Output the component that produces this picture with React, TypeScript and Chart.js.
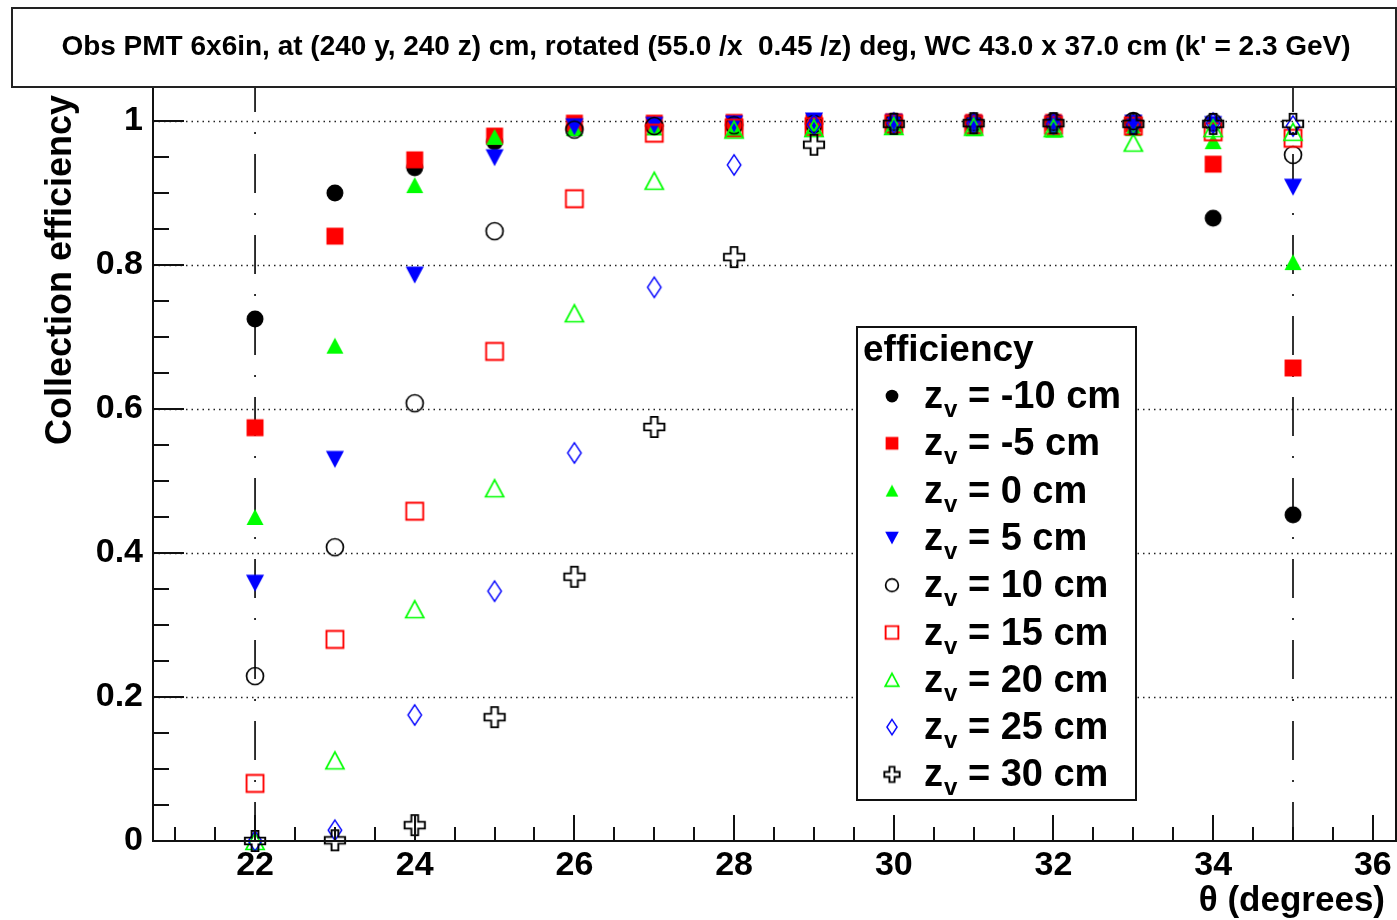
import React, { useEffect, useRef } from 'react';
import { Chart, registerables } from 'chart.js';

Chart.register(...registerables);

// ---------------- data ----------------
const thetaDeg = [22, 23, 24, 25, 26, 27, 28, 29, 30, 31, 32, 33, 34, 35];

const effZm10 = [0.725, 0.900, 0.935, 0.971, 0.990, 0.995, 0.996, 0.997, 0.998, 0.997, 0.998, 0.995, 0.865, 0.453];
const effZm5 = [0.574, 0.840, 0.946, 0.979, 0.997, 0.997, 0.998, 0.998, 0.999, 0.998, 0.998, 0.996, 0.940, 0.657];
const effZ0 = [0.450, 0.688, 0.911, 0.978, 0.990, 0.991, 0.989, 0.992, 0.992, 0.990, 0.988, 0.990, 0.972, 0.804];
const effZ5 = [0.358, 0.530, 0.786, 0.949, 0.992, 0.994, 0.996, 1.000, 0.998, 0.996, 0.996, 0.997, 0.995, 0.908];
const effZ10 = [0.229, 0.408, 0.608, 0.847, 0.988, 0.993, 0.994, 0.996, 0.999, 0.998, 0.999, 1.000, 0.998, 0.953];
const effZ15 = [0.080, 0.280, 0.458, 0.680, 0.892, 0.983, 0.990, 0.992, 0.996, 0.995, 0.994, 0.993, 0.985, 0.976];
const effZ20 = [0.000, 0.112, 0.322, 0.490, 0.733, 0.917, 0.988, 0.990, 0.993, 0.992, 0.990, 0.970, 0.990, 0.985];
const effZ25 = [0.000, 0.015, 0.175, 0.347, 0.539, 0.769, 0.939, 0.995, 0.997, 0.997, 0.996, 0.995, 0.997, 0.993];
const effZ30 = [0.000, 0.001, 0.022, 0.172, 0.367, 0.575, 0.811, 0.967, 0.996, 0.997, 0.997, 0.996, 0.996, 0.996];

const seriesLabels = ['-10', '-5', '0', '5', '10', '15', '20', '25', '30'];
const seriesValues = [effZm10, effZm5, effZ0, effZ5, effZ10, effZ15, effZ20, effZ25, effZ30];
const seriesMarkers = ['fcircle', 'fsquare', 'ftriup', 'ftridown', 'ocircle', 'osquare', 'otriup', 'odiamond', 'ocross'];
const seriesColors = ['#000000', '#ff0000', '#00ff00', '#0000ff', '#000000', '#ff0000', '#00ff00', '#0000ff', '#000000'];

const rangeLines = [22, 35];
const xTicks = [22, 24, 26, 28, 30, 32, 34, 36];
const yTicks = [0, 0.2, 0.4, 0.6, 0.8, 1];
const yTickLabels = ['0', '0.2', '0.4', '0.6', '0.8', '1'];

const X_MIN = 20.722;
const X_MAX = 36.29;
const Y_MIN = 0;
const Y_MAX = 1.0472;

const titleText = "Obs PMT 6x6in, at (240 y, 240 z) cm, rotated (55.0 /x  0.45 /z) deg, WC 43.0 x 37.0 cm (k' = 2.3 GeV)";
const yTitle = 'Collection efficiency';
const xTitle = 'θ (degrees)';
const legendTitle = 'efficiency';

const FONT = '"Liberation Sans", Arial, Helvetica, sans-serif';

// ---------------- markers ----------------
function makeMarker(kind: string, color: string, s: number): HTMLCanvasElement {
  const size = 2 * Math.ceil(12 * s);
  const c = document.createElement('canvas');
  c.width = size;
  c.height = size;
  const g = c.getContext('2d')!;
  const cx = size / 2;
  const cy = size / 2;
  g.fillStyle = color;
  g.strokeStyle = color;
  g.lineWidth = 1.7;
  g.lineJoin = 'miter';
  g.beginPath();
  switch (kind) {
    case 'fcircle':
      g.arc(cx, cy, 7.5 * s, 0, Math.PI * 2);
      g.fill();
      break;
    case 'fsquare':
      g.rect(cx - 7.5 * s, cy - 7.5 * s, 15 * s, 15 * s);
      g.fill();
      break;
    case 'ftriup':
      g.moveTo(cx, cy - 7 * s);
      g.lineTo(cx + 7.5 * s, cy + 7 * s);
      g.lineTo(cx - 7.5 * s, cy + 7 * s);
      g.closePath();
      g.fill();
      break;
    case 'ftridown':
      g.moveTo(cx - 8 * s, cy - 7.5 * s);
      g.lineTo(cx + 8 * s, cy - 7.5 * s);
      g.lineTo(cx, cy + 7.5 * s);
      g.closePath();
      g.fill();
      break;
    case 'ocircle':
      g.arc(cx, cy, 7.5 * s, 0, Math.PI * 2);
      g.stroke();
      break;
    case 'osquare':
      g.lineWidth = 1.9;
      g.rect(cx - 7.5 * s, cy - 7.5 * s, 15 * s, 15 * s);
      g.stroke();
      break;
    case 'otriup':
      g.moveTo(cx, cy - 7.5 * s);
      g.lineTo(cx + 8 * s, cy + 7.5 * s);
      g.lineTo(cx - 8 * s, cy + 7.5 * s);
      g.closePath();
      g.stroke();
      break;
    case 'odiamond':
      g.lineWidth = 1.4;
      g.moveTo(cx, cy - 9 * s);
      g.lineTo(cx + 6 * s, cy);
      g.lineTo(cx, cy + 9 * s);
      g.lineTo(cx - 6 * s, cy);
      g.closePath();
      g.stroke();
      break;
    case 'ocross': {
      g.lineWidth = 1.9;
      const a = 9 * s;
      const b = 3 * s;
      const pts = [
        [-b, -a], [b, -a], [b, -b], [a, -b], [a, b], [b, b],
        [b, a], [-b, a], [-b, b], [-a, b], [-a, -b], [-b, -b],
      ];
      pts.forEach((p, i) => (i === 0 ? g.moveTo(cx + p[0], cy + p[1]) : g.lineTo(cx + p[0], cy + p[1])));
      g.closePath();
      g.stroke();
      break;
    }
  }
  return c;
}

// ---------------- plugin ----------------
const rootStyle = {
  id: 'rootStyle',
  beforeDatasetsDraw(chart: any) {
    const { ctx, chartArea: a, scales } = chart;
    const ys = scales.y;
    ctx.save();
    ctx.strokeStyle = '#222';
    ctx.lineWidth = 1.5;
    ctx.setLineDash([1.5, 4]);
    yTicks.forEach((v) => {
      if (v === 0) return;
      const py = Math.round(ys.getPixelForValue(v)) + 0.5;
      ctx.beginPath();
      ctx.moveTo(a.left, py);
      ctx.lineTo(a.right, py);
      ctx.stroke();
    });
    ctx.restore();
  },
  afterDraw(chart: any) {
    const { ctx, chartArea: a, scales } = chart;
    const xs = scales.x;
    const ys = scales.y;
    ctx.save();
    // frame
    ctx.strokeStyle = '#111';
    ctx.lineWidth = 2;
    ctx.strokeRect(a.left, a.top, a.right - a.left, a.bottom - a.top);

    // y ticks
    ctx.lineWidth = 2;
    for (let i = 0; i <= 20; i++) {
      const v = i * 0.05;
      const py = Math.round(ys.getPixelForValue(v));
      const major = i % 4 === 0;
      ctx.beginPath();
      ctx.moveTo(a.left, py);
      ctx.lineTo(a.left + (major ? 31 : 16), py);
      ctx.stroke();
    }
    // x ticks
    for (let v = 21; v <= 36.01; v += 0.5) {
      const px = Math.round(xs.getPixelForValue(v));
      const major = Math.abs(v / 2 - Math.round(v / 2)) < 1e-6;
      ctx.beginPath();
      ctx.moveTo(px, a.bottom);
      ctx.lineTo(px, a.bottom - (major ? 26 : 14));
      ctx.stroke();
    }

    // title box
    ctx.fillStyle = '#fff';
    ctx.fillRect(12, 8, 1384, 79);
    ctx.strokeStyle = '#222';
    ctx.lineWidth = 2;
    ctx.strokeRect(12, 8, 1384, 79);
    ctx.fillStyle = '#000';
    ctx.font = `bold 28px ${FONT}`;
    ctx.textAlign = 'center';
    ctx.textBaseline = 'middle';
    ctx.fillText(titleText, 706, 47);

    // axis titles
    ctx.font = `bold 36px ${FONT}`;
    ctx.save();
    ctx.translate(61, 95);
    ctx.rotate(-Math.PI / 2);
    ctx.textAlign = 'right';
    ctx.textBaseline = 'middle';
    ctx.fillText(yTitle, 0, 0);
    ctx.restore();
    ctx.font = `bold 35px ${FONT}`;
    ctx.textAlign = 'right';
    ctx.textBaseline = 'alphabetic';
    ctx.fillText(xTitle, 1385, 911);

    // legend
    const lx = 857, ly = 327, lw = 279, lh = 473;
    ctx.fillStyle = '#fff';
    ctx.fillRect(lx, ly, lw, lh);
    ctx.strokeStyle = '#111';
    ctx.lineWidth = 2;
    ctx.strokeRect(lx, ly, lw, lh);
    ctx.fillStyle = '#000';
    ctx.textAlign = 'left';
    ctx.textBaseline = 'alphabetic';
    ctx.font = `bold 37px ${FONT}`;
    ctx.fillText(legendTitle, 863, 361);
    seriesLabels.forEach((lab, i) => {
      const yc = 396 + i * 47.3;
      const m = makeMarker(seriesMarkers[i], seriesColors[i], 0.85);
      ctx.drawImage(m, 892 - m.width / 2, yc - m.height / 2);
      ctx.font = `bold 38px ${FONT}`;
      let x = 924;
      ctx.fillText('z', x, yc + 12);
      x += ctx.measureText('z').width;
      ctx.font = `bold 24px ${FONT}`;
      ctx.fillText('v', x + 1, yc + 21);
      x += ctx.measureText('v').width + 1;
      ctx.font = `bold 38px ${FONT}`;
      ctx.fillText(` = ${lab} cm`, x, yc + 12);
    });
    ctx.restore();
  },
};

export default function App() {
  const ref = useRef<HTMLCanvasElement | null>(null);
  useEffect(() => {
    document.body.style.margin = '0';
    const canvas = ref.current!;
    const datasets: any[] = [];
    rangeLines.forEach((xv) => {
      datasets.push({
        type: 'line',
        data: [{ x: xv, y: Y_MIN }, { x: xv, y: Y_MAX }],
        borderColor: '#000',
        borderWidth: 1.6,
        borderDash: [39, 20, 2, 20],
        pointRadius: 0,
        fill: false,
        order: 100,
        clip: false,
      });
    });
    seriesValues.forEach((vals, i) => {
      datasets.push({
        type: 'scatter',
        label: `z_v = ${seriesLabels[i]} cm`,
        data: thetaDeg.map((t, j) => ({ x: t, y: vals[j] })),
        pointStyle: makeMarker(seriesMarkers[i], seriesColors[i], 1.13),
        pointRadius: 9,
        pointHoverRadius: 9,
        borderColor: seriesColors[i],
        backgroundColor: seriesColors[i],
        showLine: false,
        order: 20 - i,
        clip: false,
      });
    });
    const chart = new Chart(canvas, {
      type: 'scatter',
      data: { datasets },
      options: {
        responsive: false,
        animation: false,
        devicePixelRatio: 1,
        events: [],
        layout: { autoPadding: false, padding: { top: 87, right: 1, left: 0, bottom: 0 } },
        plugins: { legend: { display: false }, tooltip: { enabled: false }, title: { display: false } },
        scales: {
          x: {
            type: 'linear',
            min: X_MIN,
            max: X_MAX,
            grid: { display: false, drawTicks: false },
            border: { display: false },
            afterBuildTicks: (s: any) => {
              s.ticks = xTicks.map((v) => ({ value: v }));
            },
            afterFit: (s: any) => {
              s.height = 920 - 841;
              s.paddingLeft = 0;
              s.paddingRight = 0;
            },
            ticks: {
              padding: 4,
              color: '#000',
              font: { family: FONT, size: 34, weight: 'bold' },
              maxRotation: 0,
              autoSkip: false,
              callback: (v: any) => String(v),
            },
          },
          y: {
            type: 'linear',
            min: Y_MIN,
            max: Y_MAX,
            grid: { display: false, drawTicks: false },
            border: { display: false },
            afterBuildTicks: (s: any) => {
              s.ticks = yTicks.map((v) => ({ value: v }));
            },
            afterFit: (s: any) => {
              s.width = 153;
              s.paddingTop = 0;
              s.paddingBottom = 0;
            },
            ticks: {
              padding: 10,
              color: '#000',
              font: { family: FONT, size: 34, weight: 'bold' },
              autoSkip: false,
              callback: (v: any) => {
                const idx = yTicks.findIndex((t) => Math.abs(t - v) < 1e-9);
                return idx >= 0 ? yTickLabels[idx] : '';
              },
            },
          },
        },
      },
      plugins: [rootStyle],
    } as any);
    return () => chart.destroy();
  }, []);
  return (
    <div style={{ width: 1397, height: 920, background: '#fff' }}>
      <canvas ref={ref} width={1397} height={920} style={{ display: 'block' }} />
    </div>
  );
}
